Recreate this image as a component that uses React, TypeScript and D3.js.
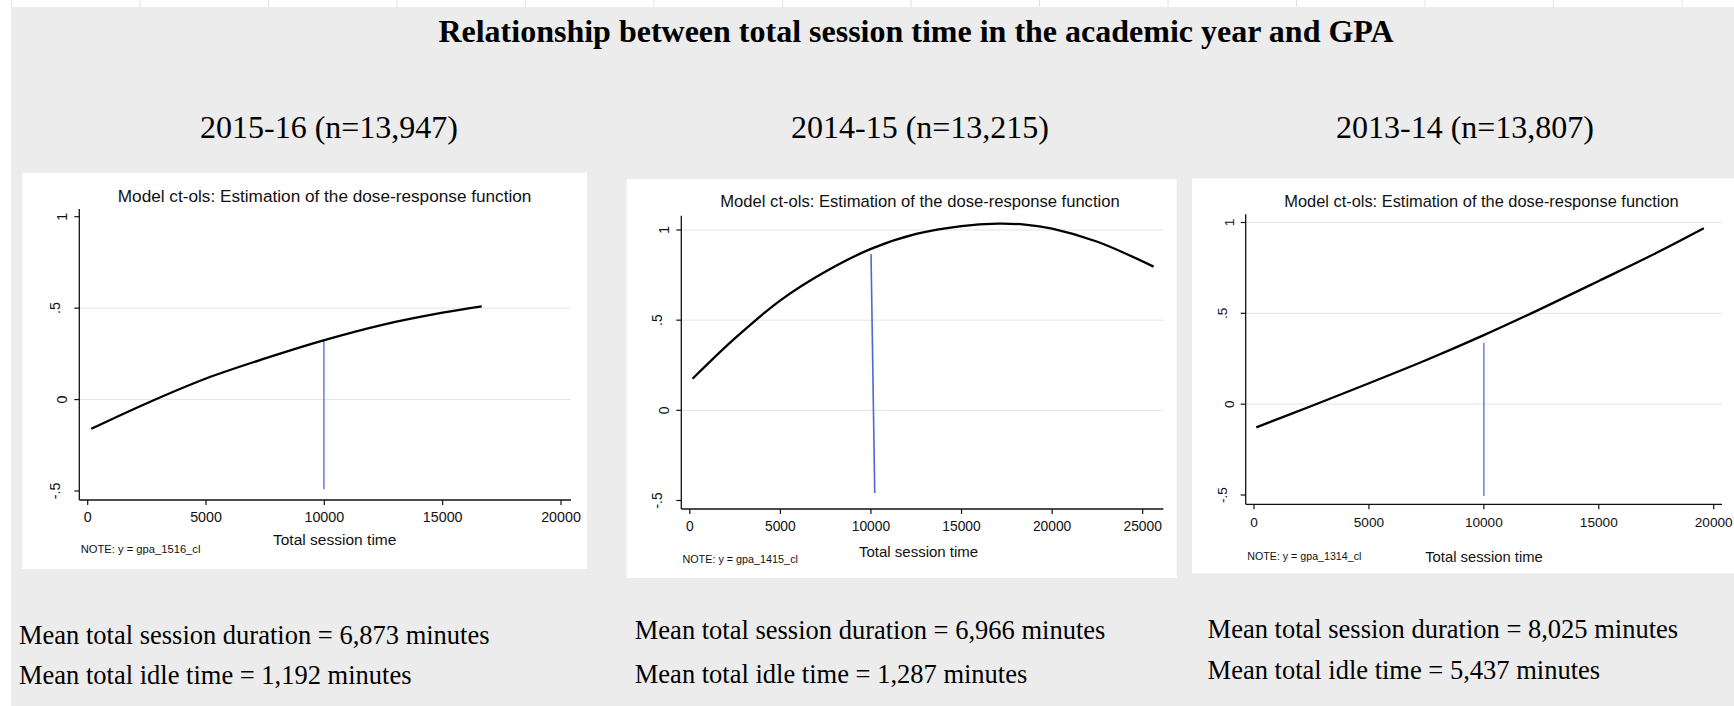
import React from "react";
import * as d3 from "d3";

// ---- data ----
const mainTitle = "Relationship between total session time in the academic year and GPA";
const panelTitle = "Model ct-ols: Estimation of the dose-response function";
const xAxisTitle = "Total session time";

const years = ["2015-16", "2014-15", "2013-14"];
const sampleSizes = ["13,947", "13,215", "13,807"];
const outcomeVars = ["gpa_1516_cl", "gpa_1415_cl", "gpa_1314_cl"];
const meanSessionMinutes = ["6,873", "6,966", "8,025"];
const meanIdleMinutes = ["1,192", "1,287", "5,437"];

const yTicks = [-0.5, 0, 0.5, 1];
const yTickLabels = ["-.5", "0", ".5", "1"];
const xTicks1516 = [0, 5000, 10000, 15000, 20000];
const xTicks1415 = [0, 5000, 10000, 15000, 20000, 25000];
const xTicks1314 = [0, 5000, 10000, 15000, 20000];
const grid1516 = [0, 0.5];
const grid1415 = [0, 0.5, 1];
const grid1314 = [0, 0.5, 1];

// estimated dose-response (session time, GPA effect)
const dose1516: [number, number][] = [
  [150, -0.16], [2500, -0.02], [5000, 0.115], [7500, 0.225], [10000, 0.325],
  [12500, 0.41], [15000, 0.475], [16650, 0.51],
];
const dose1415: [number, number][] = [
  [150, 0.175], [2500, 0.4], [5000, 0.61], [7500, 0.77], [10000, 0.895],
  [12500, 0.978], [15000, 1.022], [17000, 1.035], [18500, 1.03], [20000, 1.008],
  [22500, 0.935], [25600, 0.797],
];
const dose1314: [number, number][] = [
  [100, -0.128], [2500, -0.01], [5000, 0.115], [7500, 0.243], [10000, 0.38],
  [12500, 0.526], [15000, 0.678], [17500, 0.832], [19570, 0.968],
];

// reference marker segments at 10,000 minutes
const marker1516: [number, number][] = [[9980, -0.49], [9980, 0.33]];
const marker1415: [number, number][] = [[10209, -0.458], [10004, 0.867]];
const marker1314: [number, number][] = [[10000, -0.505], [10000, 0.338]];

// ---- layout ----
const W = 1734;
const H = 706;
const SERIF = "'Liberation Serif', 'Times New Roman', Times, serif";
const SANS = "'Liberation Sans', Arial, Helvetica, sans-serif";

type Layout = {
  box: [number, number, number, number];
  axisX: number; axisTop: number; axisY: number; plotRight: number;
  xRange: [number, number]; yRange: [number, number];
  titleX: number; titleY: number; titleSize: number;
  tickY: number; xTitleX: number; xTitleY: number;
  noteX: number; noteY: number;
  subX: number; textX: number; line1Y: number; line2Y: number;
  markerColor: string;
};

const layouts: Layout[] = [
  {
    box: [22.3, 172.7, 587, 569], axisX: 79.3, axisTop: 209, axisY: 500, plotRight: 571,
    xRange: [87.7, 561], yRange: [491, 216.7],
    titleX: 324.6, titleY: 201.7, titleSize: 17.2,
    tickY: 521.7, xTitleX: 334.7, xTitleY: 545, noteX: 80.7, noteY: 552.5,
    subX: 329, textX: 19, line1Y: 644, line2Y: 683.6, markerColor: "#7087d6",
  },
  {
    box: [626.7, 179, 1176.7, 578], axisX: 681.3, axisTop: 215.7, axisY: 509, plotRight: 1163.3,
    xRange: [689.8, 1142.7], yRange: [500.5, 230],
    titleX: 920, titleY: 207.3, titleSize: 16.6,
    tickY: 530.7, xTitleX: 918.6, xTitleY: 557, noteX: 682.4, noteY: 562.5,
    subX: 920, textX: 634.8, line1Y: 639.4, line2Y: 682.5, markerColor: "#4d66d8",
  },
  {
    box: [1192, 178.5, 1734, 573.3], axisX: 1245.7, axisTop: 214.3, axisY: 504.3, plotRight: 1722,
    xRange: [1254, 1713.7], yRange: [495, 222.5],
    titleX: 1481.5, titleY: 207, titleSize: 16.4,
    tickY: 526.7, xTitleX: 1484, xTitleY: 561.5, noteX: 1247.3, noteY: 560,
    subX: 1465, textX: 1207.6, line1Y: 638.3, line2Y: 679.2, markerColor: "#7087d6",
  },
];

const xTicksAll = [xTicks1516, xTicks1415, xTicks1314];
const gridAll = [grid1516, grid1415, grid1314];
const doseAll = [dose1516, dose1415, dose1314];
const markerAll = [marker1516, marker1415, marker1314];

function Panel({ i }: { i: number }) {
  const L = layouts[i];
  const xTicks = xTicksAll[i];
  const x = d3.scaleLinear().domain([0, xTicks[xTicks.length - 1]]).range(L.xRange);
  const y = d3.scaleLinear().domain([yTicks[0], yTicks[yTicks.length - 1]]).range(L.yRange);
  const line = d3
    .line<[number, number]>()
    .x((d) => x(d[0]))
    .y((d) => y(d[1]))
    .curve(d3.curveCatmullRom.alpha(0.5));
  const seg = d3
    .line<[number, number]>()
    .x((d) => x(d[0]))
    .y((d) => y(d[1]));
  const [bx0, by0, bx1, by1] = L.box;
  const k = L.titleSize / 16.6;
  const tickFs = 13.8 * k;
  return (
    <g>
      <rect x={bx0} y={by0} width={bx1 - bx0} height={by1 - by0} fill="#ffffff" />
      <text x={L.titleX} y={L.titleY} textAnchor="middle" fontFamily={SANS} fontSize={L.titleSize} fill="#111">
        {panelTitle}
      </text>
      {gridAll[i].map((g) => (
        <line key={g} x1={L.axisX} x2={L.plotRight} y1={y(g)} y2={y(g)} stroke="#e4e4e4" strokeWidth={1} />
      ))}
      {/* y axis */}
      <line x1={L.axisX} x2={L.axisX} y1={L.axisTop} y2={L.axisY} stroke="#111" strokeWidth={1.3} />
      {yTicks.map((t, j) => {
        const lbl = yTickLabels[j];
        const cx = L.axisX - (lbl.length === 1 ? 17 : 24) * k;
        return (
          <g key={t}>
            <line x1={L.axisX - 5} x2={L.axisX} y1={y(t)} y2={y(t)} stroke="#111" strokeWidth={1.2} />
            <text
              transform={`translate(${cx + tickFs * 0.36},${y(t)}) rotate(-90)`}
              textAnchor="middle"
              fontFamily={SANS}
              fontSize={tickFs}
              fill="#111"
            >
              {lbl}
            </text>
          </g>
        );
      })}
      {/* x axis */}
      <line x1={L.axisX} x2={L.plotRight} y1={L.axisY} y2={L.axisY} stroke="#111" strokeWidth={1.3} />
      {xTicks.map((t) => (
        <g key={t}>
          <line x1={x(t)} x2={x(t)} y1={L.axisY} y2={L.axisY + 5} stroke="#111" strokeWidth={1.2} />
          <text x={x(t)} y={L.tickY} textAnchor="middle" fontFamily={SANS} fontSize={tickFs} fill="#111">
            {String(t)}
          </text>
        </g>
      ))}
      <text x={L.xTitleX} y={L.xTitleY} textAnchor="middle" fontFamily={SANS} fontSize={15 * k} fill="#111">
        {xAxisTitle}
      </text>
      <text x={L.noteX} y={L.noteY} fontFamily={SANS} fontSize={10.8 * k} fill="#111">
        {`NOTE: y = ${outcomeVars[i]}`}
      </text>
      {/* marker and curve */}
      <path d={seg(markerAll[i]) || ""} fill="none" stroke={L.markerColor} strokeWidth={1.6} />
      <path d={line(doseAll[i]) || ""} fill="none" stroke="#000" strokeWidth={2.3} strokeLinejoin="round" />
      {/* headings and summary lines */}
      <text x={L.subX} y={138} textAnchor="middle" fontFamily={SERIF} fontSize={32} fill="#000">
        {`${years[i]} (n=${sampleSizes[i]})`}
      </text>
      <text x={L.textX} y={L.line1Y} fontFamily={SERIF} fontSize={26.5} fill="#000">
        {`Mean total session duration = ${meanSessionMinutes[i]} minutes`}
      </text>
      <text x={L.textX} y={L.line2Y} fontFamily={SERIF} fontSize={26.5} fill="#000">
        {`Mean total idle time = ${meanIdleMinutes[i]} minutes`}
      </text>
    </g>
  );
}

export default function App() {
  const topMarks = d3.range(14).map((j) => 11.5 + 128.5 * j);
  return (
    <svg
      width={W}
      height={H}
      viewBox={`0 0 ${W} ${H}`}
      style={{ position: "absolute", left: 0, top: 0, display: "block" }}
    >
      <rect x={0} y={0} width={W} height={H} fill="#ffffff" />
      <rect x={11} y={7} width={W - 11} height={H - 7} fill="#ececec" />
      {topMarks.map((m) => (
        <line key={m} x1={m} x2={m} y1={0} y2={7} stroke="#e2e2e2" strokeWidth={1} />
      ))}
      <text x={916} y={41.7} textAnchor="middle" fontFamily={SERIF} fontWeight="bold" fontSize={32} fill="#000">
        {mainTitle}
      </text>
      {years.map((_, i) => (
        <Panel key={i} i={i} />
      ))}
    </svg>
  );
}
